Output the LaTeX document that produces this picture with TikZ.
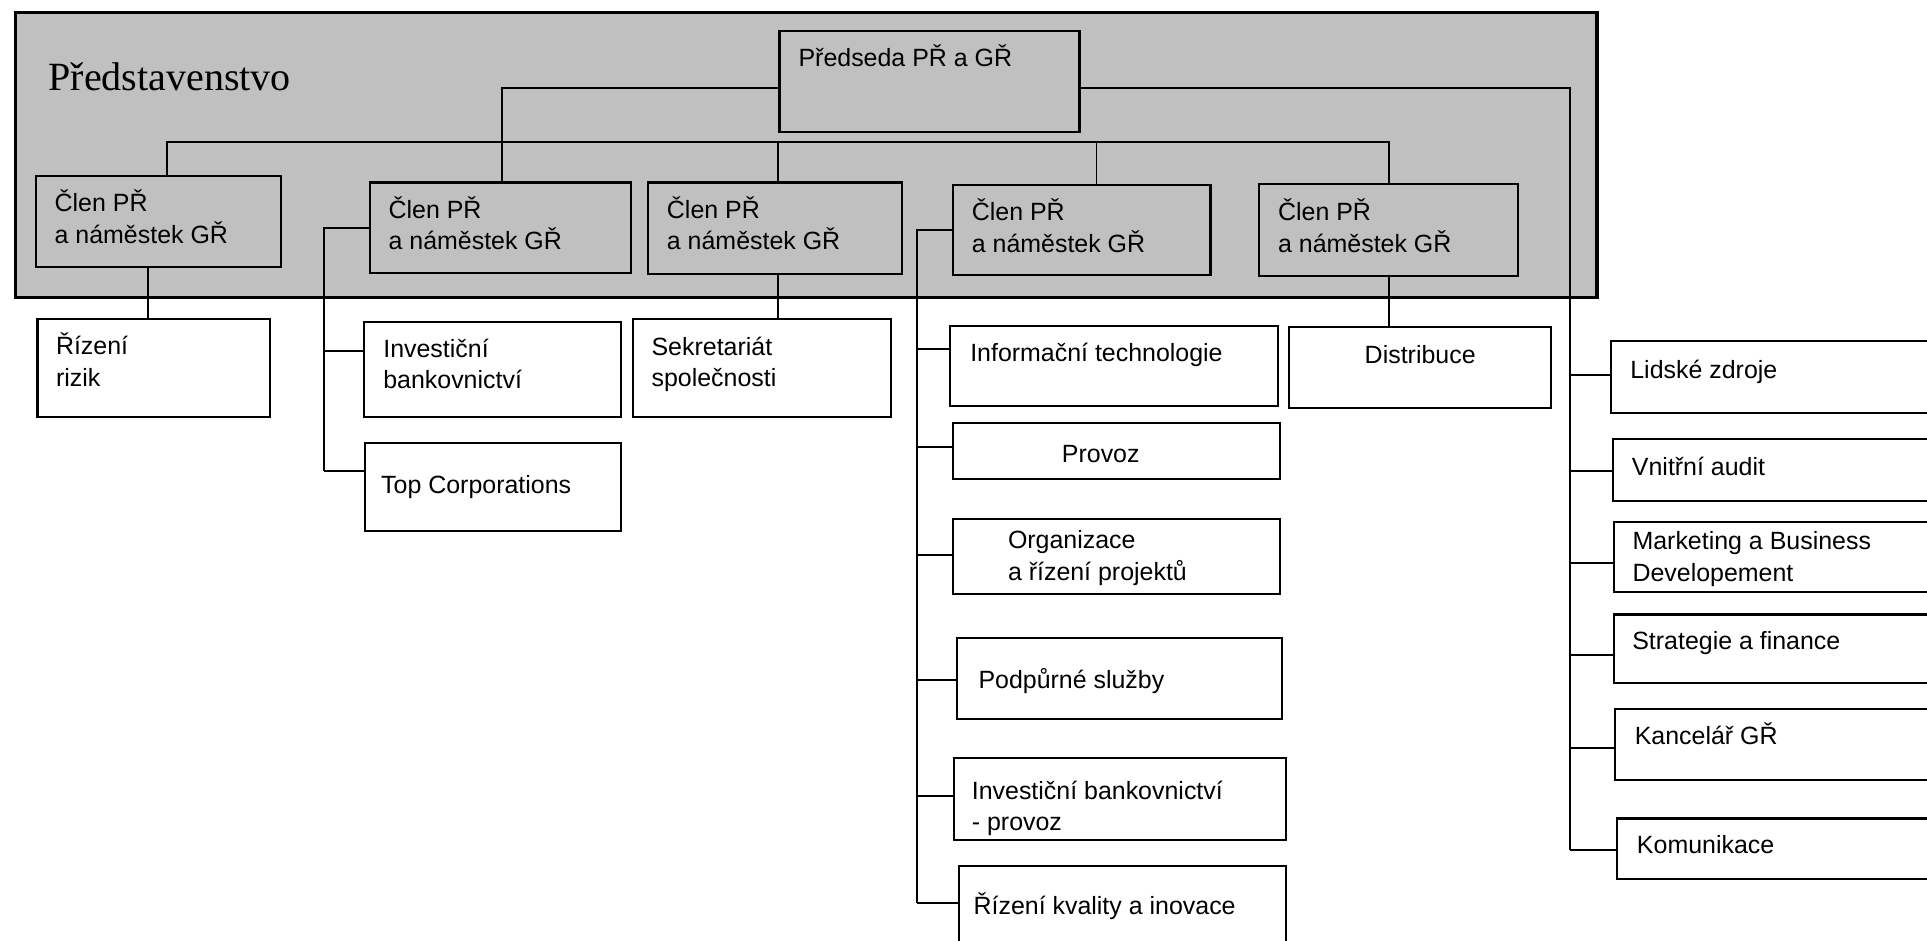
\documentclass[tikz,border=0pt]{standalone}
\usepackage{fontspec}
\setmainfont{Liberation Sans}
\newfontfamily\boardfont{Liberation Serif}
\usetikzlibrary{positioning}
\definecolor{boardgray}{RGB}{192,192,192}
\tikzset{
	unit/.style={draw, line width=1.7pt, fill=white, anchor=north west, inner sep=0pt, outer sep=0pt}, % white box below the board
	member/.style={unit, fill=boardgray}, % box inside the board
	board/.style={draw, line width=2.6pt, fill=boardgray, anchor=north west, inner sep=0pt},
	txt/.style={anchor=base west, inner sep=0pt, align=left, font=\fontsize{20.3}{25.8}\selectfont}, % base = last line
	link/.style={line width=1.6pt},
}
\begin{document}
\begin{tikzpicture}[x=1pt, y=-1pt]
	\useasboundingbox (0,0) rectangle (1568,765);
	\clip (0,0) rectangle (1568,765);
	% board
	\node[board, minimum width=1287.2, minimum height=231.5] (board) at (11,9) {};
	\node[member, minimum width=244.1, minimum height=82.5] (chair) at (634.3,25.2) {};
	\node[member, minimum width=199.5, minimum height=74.3] (m1) at (29,143.2) {};
	\node[member, minimum width=212.8, minimum height=73.9] (m2) at (300.7,148.5) {};
	\node[member, minimum width=206.7, minimum height=74.2] (m3) at (527.3,148.5) {};
	\node[member, minimum width=209.6, minimum height=73.7] (m4) at (775.4,150.3) {};
	\node[member, minimum width=210.5, minimum height=74.6] (m5) at (1024.7,149.7) {};
	% units
	\node[unit, minimum width=189.5, minimum height=79.2] (risk) at (30.5,259.8) {};
	\node[unit, minimum width=209, minimum height=77.3] (ib) at (296,261.7) {};
	\node[unit, minimum width=208, minimum height=71.3] (topcorp) at (297,360.7) {};
	\node[unit, minimum width=210.2, minimum height=79.2] (secr) at (514.8,259.8) {};
	\node[unit, minimum width=266.7, minimum height=65] (it) at (773.3,265.3) {};
	\node[unit, minimum width=266.3, minimum height=45.7] (provoz) at (775.3,344) {};
	\node[unit, minimum width=266.3, minimum height=60.7] (org) at (775.3,422.3) {};
	\node[unit, minimum width=264.5, minimum height=65.6] (podpora) at (778.5,519.4) {};
	\node[unit, minimum width=270.5, minimum height=67] (ibprov) at (776,616.5) {};
	\node[unit, minimum width=266.5, minimum height=100] (kvalita) at (780,704.6) {};
	\node[unit, minimum width=213.6, minimum height=65.9] (distr) at (1048.8,266.3) {};
	\node[unit, minimum width=300, minimum height=58.3] (hr) at (1311,277.4) {};
	\node[unit, minimum width=300, minimum height=49.8] (audit) at (1312.7,357.5) {};
	\node[unit, minimum width=300, minimum height=56.7] (mkt) at (1313,424.8) {};
	\node[unit, minimum width=300, minimum height=55.8] (strat) at (1313,500) {};
	\node[unit, minimum width=300, minimum height=57.7] (kanc) at (1314,576.7) {};
	\node[unit, minimum width=300, minimum height=49] (komun) at (1315.5,666) {};
	% connectors
	\coordinate (bus) at (1129.95,115.8);
	\coordinate (inv) at (264,383);
	\coordinate (ops) at (746.5,734.5);
	\coordinate (staff) at (1277.3,691.6);
	\draw[link] ([yshift=-4.8pt]chair.west) -| ([xshift=1.5pt]m2.north);
	\draw[link] ([yshift=-4.8pt]chair.east) -| (staff);
	\draw[link] ([xshift=7.5pt]m1.north) |- (bus) -- (m5.north);
	\draw[link] ([xshift=2.6pt]m3.north) |- (bus);
	\draw[link] ([xshift=12pt]m4.north) |- (bus);
	\draw[link] ([xshift=-8.7pt]m1.south) coordinate (d1) -- (d1 |- risk.north);
	\draw[link] ([xshift=2.6pt]m3.south) coordinate (d3) -- (d3 |- secr.north);
	\draw[link] (m5.south) -- (m5.south |- distr.north);
	\draw[link] (m2.west) -| (inv);
	\draw[link] (m4.west) -| (ops);
	\foreach \n/\d in {ib/23.9, topcorp/22.3}
		\draw[link] (\n.north west) ++(0,\d) coordinate (stub) -- (stub -| inv);
	\foreach \n/\d in {it/19, provoz/19.5, org/29.4, podpora/33.6, ibprov/31.2, kvalita/29.9}
		\draw[link] (\n.north west) ++(0,\d) coordinate (stub) -- (stub -| ops);
	\foreach \n/\d in {hr/27.6, audit/25.8, mkt/33.2, strat/32.6, kanc/32.1, komun/25.6}
		\draw[link] (\n.north west) ++(0,\d) coordinate (stub) -- (stub -| staff);
	% texts
	\node[txt, font=\boardfont\fontsize{32.6}{38}\selectfont] (t-board) at (39.2,73.8) {Představenstvo};
	\node[txt] (t-chair) at (649.6,54.2) {Předseda PŘ a GŘ};
	\node[txt] (t-m1) at (44.3,198) {Člen PŘ\\a náměstek GŘ};
	\node[txt] (t-m2) at (316,203.4) {Člen PŘ\\a náměstek GŘ};
	\node[txt] (t-m3) at (542.5,203.4) {Člen PŘ\\a náměstek GŘ};
	\node[txt] (t-m4) at (790.6,205.1) {Člen PŘ\\a náměstek GŘ};
	\node[txt] (t-m5) at (1039.8,205.3) {Člen PŘ\\a náměstek GŘ};
	\node[txt] (t-risk) at (45.4,314.6) {Řízení\\rizik};
	\node[txt] (t-ib) at (311.7,316.3) {Investiční\\bankovnictví};
	\node[txt] (t-topcorp) at (310,401.5) {Top Corporations};
	\node[txt] (t-secr) at (530,314.8) {Sekretariát\\společnosti};
	\node[txt] (t-it) at (789.3,294.3) {Informační technologie};
	\node[txt] (t-provoz) at (863.9,376.2) {Provoz};
	\node[txt] (t-org) at (820,472) {Organizace\\a řízení projektů};
	\node[txt] (t-podpora) at (796,560) {Podpůrné služby};
	\node[txt] (t-ibprov) at (790.6,676) {Investiční bankovnictví\\- provoz};
	\node[txt] (t-kvalita) at (792,744.5) {Řízení kvality a inovace};
	\node[txt, anchor=base] (t-distr) at (1155.6,295.6) {Distribuce};
	\node[txt] (t-hr) at (1326.4,307.8) {Lidské zdroje};
	\node[txt] (t-audit) at (1327.7,386.7) {Vnitřní audit};
	\node[txt] (t-mkt) at (1328.2,473) {Marketing a Business\\Developement};
	\node[txt] (t-strat) at (1328,528.6) {Strategie a finance};
	\node[txt] (t-kanc) at (1330,605.6) {Kancelář GŘ};
	\node[txt] (t-komun) at (1331.8,694.4) {Komunikace};
\end{tikzpicture}
\end{document}
